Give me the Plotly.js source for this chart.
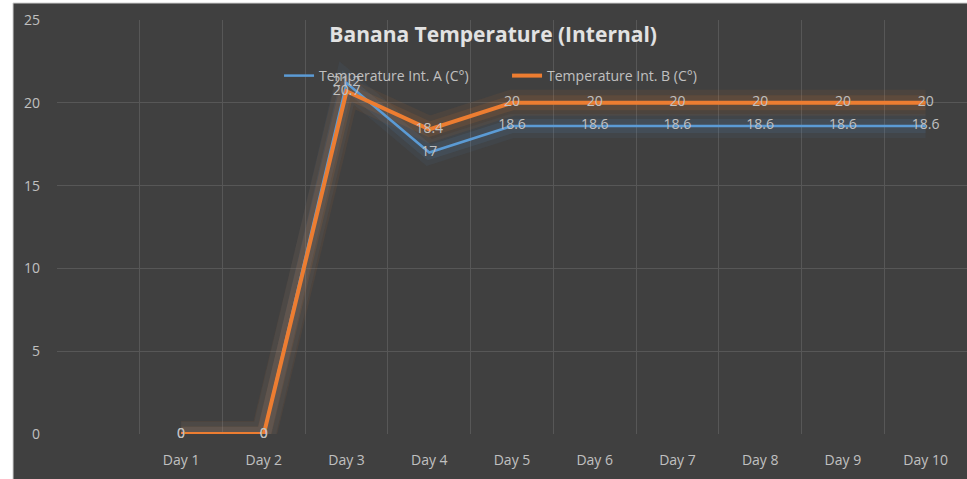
<!DOCTYPE html>
<html>
<head>
<meta charset="utf-8">
<script src="https://cdn.plot.ly/plotly-3.0.1.min.js"></script>
<style>html,body{margin:0;padding:0;background:#fff;}#chart{width:967px;height:479px;}</style>
</head>
<body>
<div id="chart"></div>
<script>
// ---- data ----
const categories = ["Day 1","Day 2","Day 3","Day 4","Day 5","Day 6","Day 7","Day 8","Day 9","Day 10"];
const tempA = [0, 0, 21.2, 17, 18.6, 18.6, 18.6, 18.6, 18.6, 18.6];
const tempB = [0, 0, 20.7, 18.4, 20, 20, 20, 20, 20, 20];
const seriesNames = ["Temperature Int. A (C°)", "Temperature Int. B (C°)"];
const yTicks = [0, 5, 10, 15, 20, 25];
const titleText = "Banana Temperature (Internal)";

// ---- chart ----
const xs = categories.map((c, i) => i + 1);
const FONT = "Open Sans, sans-serif";
const BLUE = "#5B9BD5", ORANGE = "#ED7D31";
const LBL = "#c0c0c0";
const FS = 14;

function glow(y, rgb, w, a) {
  return {x: xs, y: y, mode: "lines", line: {color: `rgba(${rgb},${a})`, width: w, shape: "linear"},
          hoverinfo: "skip", showlegend: false};
}
const traces = [
  glow(tempA, "91,155,213", 24, 0.06), glow(tempA, "91,155,213", 14, 0.10),
  glow(tempB, "237,125,49", 26, 0.07), glow(tempB, "237,125,49", 15, 0.11),
  {x: xs, y: tempA, name: seriesNames[0], mode: "lines", line: {color: BLUE, width: 2.5}},
  {x: xs, y: tempB, name: seriesNames[1], mode: "lines", line: {color: ORANGE, width: 4}},
  {x: xs, y: tempA, mode: "text", text: tempA.map(String), textposition: "middle center", cliponaxis: false,
   textfont: {family: FONT, size: FS, color: LBL}, showlegend: false, hoverinfo: "skip"},
  {x: xs, y: tempB, mode: "text", text: tempB.map(String), textposition: "middle center", cliponaxis: false,
   textfont: {family: FONT, size: FS, color: LBL}, showlegend: false, hoverinfo: "skip"}
];

const layout = {
  width: 967, height: 479,
  margin: {l: 57, r: 0, t: 20, b: 45},
  paper_bgcolor: "#ffffff",
  plot_bgcolor: "#404040",
  font: {family: FONT, color: LBL, size: FS},
  title: {text: "<b>" + titleText + "</b>", font: {family: FONT, size: 21, color: "#e2e2e2"},
          xref: "container", yref: "container", x: 0.51, y: 1 - 35/479, xanchor: "center", yanchor: "middle"},
  showlegend: true,
  legend: {orientation: "h", x: 0.244, y: 1 - (76-20)/414, xanchor: "left", yanchor: "middle",
           bgcolor: "rgba(0,0,0,0)", font: {family: FONT, size: FS, color: LBL},
           entrywidth: 183, entrywidthmode: "pixels", traceorder: "normal"},
  xaxis: {range: [-0.5, 10.5], tickmode: "array", tickvals: xs, ticktext: categories,
          showgrid: false, zeroline: false, showline: false, ticks: "",
          ticklabelstandoff: 16, tickfont: {family: FONT, size: FS, color: LBL},
          minor: {tick0: 0.5, dtick: 1, showgrid: true, gridcolor: "#575757", gridwidth: 1, ticks: ""}},
  yaxis: {range: [0, 25], tickmode: "array", tickvals: yTicks, showgrid: true, gridcolor: "#575757",
          gridwidth: 1, zeroline: false, showline: false, ticks: "", ticklabelstandoff: 16,
          tickfont: {family: FONT, size: FS, color: LBL}},
  shapes: [
    {type: "rect", xref: "paper", yref: "paper", x0: (13-57)/910, x1: 1.01, y0: -0.2, y1: (434-3)/414,
     fillcolor: "#404040", line: {color: "#d0d0d0", width: 1}, layer: "below"}
  ]
};

Plotly.newPlot("chart", traces, layout, {displayModeBar: false, staticPlot: true});
</script>
</body>
</html>
